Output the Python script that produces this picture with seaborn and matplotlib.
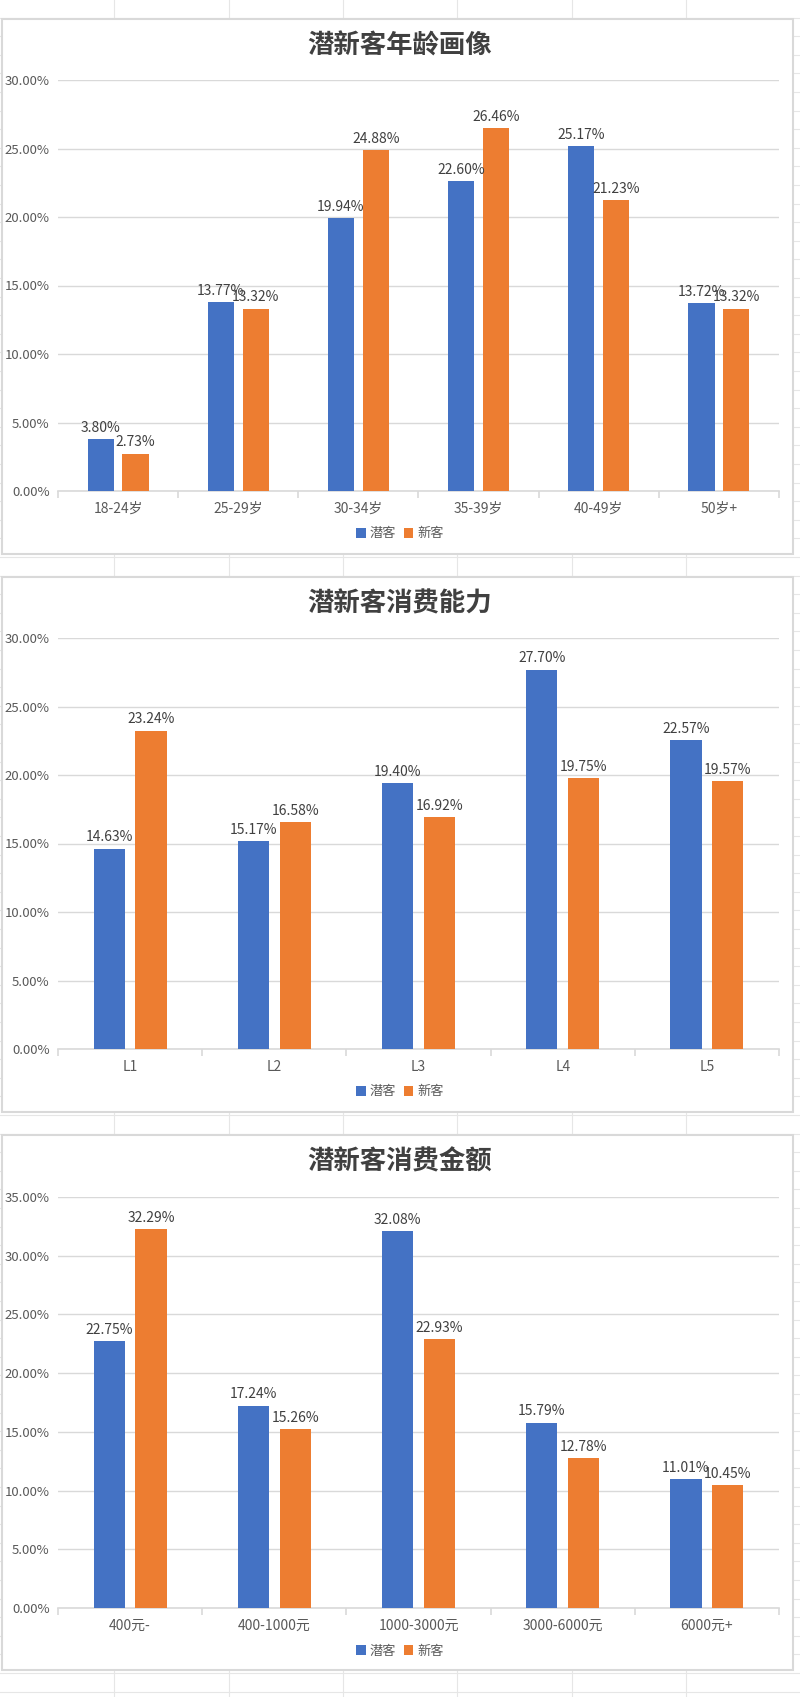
import numpy as np
import pandas as pd
import matplotlib
matplotlib.use('Agg')
import matplotlib.pyplot as plt
import seaborn as sns
from matplotlib.patches import Rectangle, Patch
from matplotlib.lines import Line2D

#-------------------------------------------------------
l_series=['潜客', '新客']

l_age=['18-24岁', '25-29岁', '30-34岁', '35-39岁', '40-49岁', '50岁+']
age_qian=[3.80, 13.77, 19.94, 22.60, 25.17, 13.72]
age_xin=[2.73, 13.32, 24.88, 26.46, 21.23, 13.32]

l_level=['L1', 'L2', 'L3', 'L4', 'L5']
level_qian=[14.63, 15.17, 19.40, 27.70, 22.57]
level_xin=[23.24, 16.58, 16.92, 19.75, 19.57]

l_amount=['400元-', '400-1000元', '1000-3000元', '3000-6000元', '6000元+']
amount_qian=[22.75, 17.24, 32.08, 15.79, 11.01]
amount_xin=[32.29, 15.26, 22.93, 12.78, 10.45]

l_title=['潜新客年龄画像', '潜新客消费能力', '潜新客消费金额']

c_blue='#4472C4'
c_orange='#ED7D31'
c_grid='#D9D9D9'
c_txt='#595959'

W, H=800, 1697

#-------------------------------------------------------
plt.rcParams['font.family']=['Noto Sans CJK SC', 'DejaVu Sans']
fig=plt.figure(figsize=(W/100, H/100), dpi=100)
fig.patch.set_facecolor('white')


def fx(x):
	return x/W


def fy(y):
	return 1-y/H


#spreadsheet grid in background
for y in np.arange(17.5, H, 18.6):
	fig.add_artist(Line2D([0, 1], [fy(y), fy(y)], color='#E6E6E6', lw=0.8, zorder=0))
for x in np.arange(114.3, W, 114.3):
	fig.add_artist(Line2D([fx(x), fx(x)], [0, 1], color='#E6E6E6', lw=0.8, zorder=0))


def mk_df(l_cat, v1, v2):
	df=pd.DataFrame({'cat': l_cat, l_series[0]: v1, l_series[1]: v2})
	df=df.melt(id_vars='cat', var_name='type', value_name='val')
	df['val']=df['val']/100
	return df


def plt_panel(df, title, frame, plot, ymax):
	#frame (top, bottom) and plot area (top, bottom) in pixels
	f_top, f_bot=frame
	p_top, p_bot=plot
	fig.add_artist(Rectangle((fx(2), fy(f_bot)), fx(791), (f_bot-f_top)/H,
		facecolor='white', edgecolor=c_grid, lw=1.5, zorder=1))
	fig.text(0.5, fy(f_top+27), title, ha='center', va='center', fontsize=19,
		fontweight='bold', color='#404040', zorder=3)

	ax=fig.add_axes([fx(58), fy(p_bot), fx(779-58), (p_bot-p_top)/H])
	ax.set_zorder(2)
	ax.patch.set_alpha(0)
	sns.barplot(data=df, x='cat', y='val', hue='type', hue_order=l_series,
		palette=[c_blue, c_orange], saturation=1, width=0.58, gap=0.25,
		errorbar=None, legend=False, ax=ax, zorder=3)
	#labels
	for cont in ax.containers:
		ax.bar_label(cont, labels=[f'{b.get_height()*100:.2f}%' for b in cont],
			padding=3, fontsize=10, color='#404040')
	#adjust
	ax.set_ylim(0, ymax)
	ax.set_yticks(np.arange(0, ymax+0.001, 0.05))
	ax.set_yticklabels([f'{v*100:.2f}%' for v in ax.get_yticks()])
	ax.xaxis.label.set_visible(False)
	ax.yaxis.label.set_visible(False)
	ax.grid(axis='y', color=c_grid, lw=1, zorder=0)
	ax.set_axisbelow(True)
	for s in ['top', 'right', 'left']:
		ax.spines[s].set_visible(False)
	ax.spines['bottom'].set_color(c_grid)
	ax.spines['bottom'].set_linewidth(1.2)
	n=df['cat'].nunique()
	ax.set_xticks(np.arange(-0.5, n, 1), minor=True)
	ax.tick_params(axis='x', which='major', length=0, pad=8, labelsize=10, labelcolor=c_txt)
	ax.tick_params(axis='x', which='minor', length=5, color=c_grid, width=1.2)
	ax.tick_params(axis='y', length=0, pad=6, labelsize=9.5, labelcolor=c_txt)
	ax.set_xlim(-0.5, n-0.5)
	#legend
	handles=[Patch(facecolor=c_blue, label=l_series[0]), Patch(facecolor=c_orange, label=l_series[1])]
	fig.legend(handles=handles, loc='center', bbox_to_anchor=(fx(400), fy(p_bot+43)),
		ncol=2, frameon=False, fontsize=9.5, labelcolor=c_txt, handlelength=0.7,
		handleheight=0.7, handletextpad=0.3, columnspacing=0.6)
	return ax


##########################################################################
plt_panel(mk_df(l_age, age_qian, age_xin), l_title[0], (19, 554), (80, 491), 0.30)
plt_panel(mk_df(l_level, level_qian, level_xin), l_title[1], (577, 1112), (638, 1049), 0.30)
plt_panel(mk_df(l_amount, amount_qian, amount_xin), l_title[2], (1135, 1670), (1197, 1608), 0.35)

plt.savefig('out.png', dpi=100)
plt.close()
